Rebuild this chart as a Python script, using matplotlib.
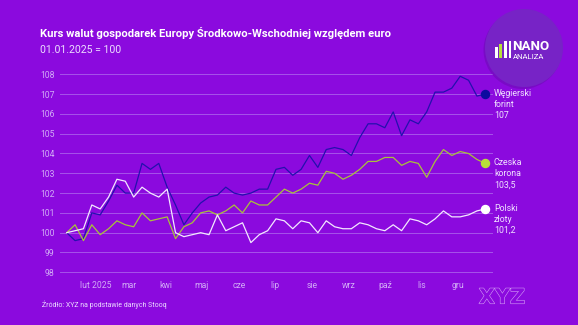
"""Kurs walut gospodarek Europy Środkowo-Wschodniej względem euro (01.01.2025 = 100)."""

import matplotlib

matplotlib.use("Agg")
import matplotlib.patheffects as pe
import matplotlib.pyplot as plt
import numpy as np
import pandas as pd
from matplotlib.patches import Ellipse, Rectangle

BG = "#8b0ade"
GRID = "#a653ea"
TICK = "#d2acf6"
plt.rcParams["font.family"] = ["Roboto", "DejaVu Sans"]

# weekly observations
dates = pd.date_range("2025-01-08", periods=51, freq="7D")

huf = [
    100.0, 99.6, 99.7, 101.0, 100.9, 101.6, 102.4, 102.0, 102.0, 103.5,
    103.2, 103.5, 102.3, 101.4, 100.4, 101.0, 101.5, 101.8, 101.9, 102.3,
    102.0, 101.9, 102.0, 102.2, 102.2, 103.2, 103.3, 102.9, 103.2, 103.9,
    103.3, 104.2, 104.3, 104.2, 103.9, 104.8, 105.5, 105.5, 105.3, 106.1,
    104.9, 105.7, 105.5, 106.1, 107.1, 107.1, 107.3, 107.9, 107.7, 106.9,
    107.0,
]
czk = [
    100.0, 100.4, 99.6, 100.4, 99.9, 100.2, 100.6, 100.4, 100.3, 101.0,
    100.6, 100.7, 100.8, 99.7, 100.3, 100.5, 101.0, 101.1, 100.9, 101.1,
    101.4, 101.0, 101.6, 101.4, 101.4, 101.8, 102.2, 102.0, 102.2, 102.5,
    102.4, 103.1, 103.0, 102.7, 102.9, 103.2, 103.6, 103.6, 103.8, 103.8,
    103.4, 103.6, 103.5, 102.8, 103.6, 104.2, 103.9, 104.1, 104.0, 103.7,
    103.5,
]
pln = [
    100.0, 100.1, 100.2, 101.4, 101.2, 101.8, 102.7, 102.6, 101.8, 102.3,
    102.0, 101.8, 102.2, 100.0, 99.8, 99.9, 100.0, 99.9, 100.9, 100.1,
    100.3, 100.5, 99.5, 99.9, 100.1, 100.7, 100.6, 100.2, 100.6, 100.5,
    100.0, 100.6, 100.3, 100.2, 100.2, 100.5, 100.4, 100.2, 100.1, 100.4,
    100.1, 100.7, 100.6, 100.4, 100.7, 101.1, 100.8, 100.8, 100.9, 101.1,
    101.2,
]

series_names = ["Węgierski\nforint", "Czeska\nkorona", "Polski\nzłoty"]
line_colors = ["#2410ae", "#a9c23a", "#f3e8ff"]
dot_colors = ["#0c0aa0", "#b8e03a", "#ffffff"]

month_ticks = pd.date_range("2025-02-01", "2025-12-01", freq="MS")
month_labels = ["lut 2025", "mar", "kwi", "maj", "cze", "lip", "sie", "wrz",
                "paź", "lis", "gru"]
y_ticks = np.arange(98, 109, 1)

fig = plt.figure(figsize=(5.78, 3.25), dpi=100, facecolor=BG)
ax = fig.add_axes([60 / 578, 1 - 272.3 / 325, 432 / 578, 198 / 325])
ax.set_facecolor(BG)

for values, lc, dc, name in zip([huf, czk, pln], line_colors, dot_colors,
                                series_names):
    ax.plot(dates, values, color=lc, lw=0.9, zorder=3)
    ax.plot(dates[-1], values[-1], "o", ms=5.8, color=dc, zorder=4)
    label = f"{values[-1]:g}".replace(".", ",")
    ax.annotate(f"{name}\n{label}", xy=(dates[-1], values[-1]),
                xytext=(6.2, 3.6), textcoords="offset points",
                ha="left", va="top", fontsize=6.3, color="#f0e2ff",
                linespacing=1.3, annotation_clip=False)

pad = pd.Timedelta(days=5.6)
ax.set_xlim(dates[0] - pad, dates[-1] + pad)
ax.set_ylim(98, 108)
ax.set_yticks(y_ticks)
ax.set_xticks(month_ticks)
ax.set_xticklabels(month_labels)
ax.tick_params(axis="both", length=0, colors=TICK, labelsize=6.2)
ax.tick_params(axis="y", pad=4)
ax.tick_params(axis="x", pad=6.5)
ax.grid(axis="y", color=GRID, lw=0.7)
for gl in ax.get_ygridlines():
    gl.set_clip_on(False)
for s in ax.spines.values():
    s.set_visible(False)

fig.text(40.5 / 578, 1 - 36.9 / 325,
         "Kurs walut gospodarek Europy Środkowo-Wschodniej względem euro",
         color="white", fontsize=8.1, fontweight="bold", va="baseline")
fig.text(40.5 / 578, 1 - 53.4 / 325, "01.01.2025 = 100", color="#ecdcff",
         fontsize=7.6, va="baseline")
fig.text(41.5 / 578, 1 - 307 / 325, "Źródło: XYZ na podstawie danych Stooq",
         color="#ecdcff", fontsize=5.0, va="baseline")

# NANO ANALIZA badge
cx, cy, r = 524, 48, 39
fig.add_artist(Ellipse(((cx - 1.5) / 578, 1 - (cy + 2) / 325), 2 * r / 578,
                       2 * r / 325, transform=fig.transFigure,
                       color="#5a0a9a", alpha=0.35, lw=0))
fig.add_artist(Ellipse((cx / 578, 1 - cy / 325), 2 * r / 578, 2 * r / 325,
                       transform=fig.transFigure, color="#7723c6", lw=0))
bar_left = [495, 499.2, 504]
bar_top = [46.7, 44.3, 41]
bar_col = ["white", "#b8e03a", "white"]
for bl, bt, bc in zip(bar_left, bar_top, bar_col):
    fig.add_artist(Rectangle((bl / 578, 1 - 57.7 / 325), 2.8 / 578,
                             (57.7 - bt) / 325, transform=fig.transFigure,
                             color=bc, lw=0))
fig.add_artist(Rectangle((509.3 / 578, 1 - 57.7 / 325), 2 / 578, 16.7 / 325,
                         transform=fig.transFigure, color="white", lw=0))
fig.text(512.5 / 578, 1 - 49.6 / 325, "NANO", color="white", fontsize=9.6,
         fontweight="bold", va="baseline")
fig.text(513 / 578, 1 - 59.2 / 325, "ANALIZA", color="white", fontsize=5.6,
         va="baseline")

# XYZ outline mark
fig.text(502 / 578, 1 - 303.5 / 325, "XYZ", color=BG, fontsize=15,
         fontweight="bold", ha="center", va="baseline",
         family="DejaVu Sans",
         path_effects=[pe.withStroke(linewidth=0.8, foreground="#d49cf6")])

fig.savefig("out.png", dpi=100, facecolor=BG)
